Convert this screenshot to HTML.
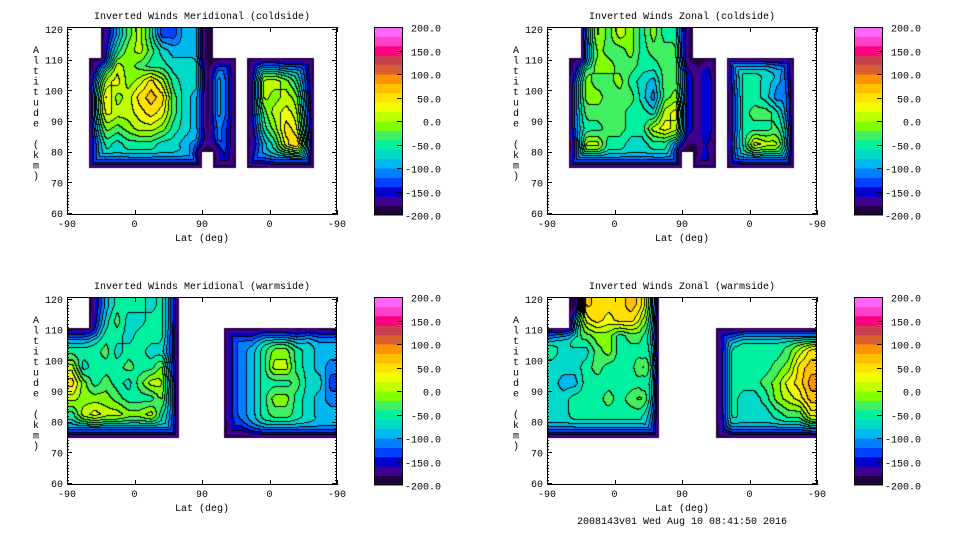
<!DOCTYPE html>
<html><head><meta charset="utf-8">
<style>
body{margin:0;background:#fff;width:960px;height:540px;overflow:hidden;position:relative;font-family:"Liberation Mono",monospace}
canvas{position:absolute}
svg{position:absolute;left:0;top:0}
</style></head>
<body>
<canvas id="c0" width="270" height="188" style="left:67px;top:27px"></canvas>
<canvas id="c1" width="270" height="188" style="left:547px;top:27px"></canvas>
<canvas id="c2" width="270" height="188" style="left:67px;top:297px"></canvas>
<canvas id="c3" width="270" height="188" style="left:547px;top:297px"></canvas>
<svg id="ov" width="960" height="540"></svg>
<script>
// level codes a..t => -190..190 step 20, '.' = no data. rows top(117.5km) to bottom(77.5km); 24 lat columns
const merCold=["...dfikhddffa...........","...fhjkigfffa...........","..chkjihhgggaee.dggffe..","..ikljkmkhggaff.fkkjhf..","..kmjkmnmigfaff.fkjkjg..","..klkklmligfaff.fiklkh..","..ijijkkjhgfaee.ehjmli..","..ghghhhggffbee.dfhlnk..","..gggggggggg.dd.ffgggg.."];
const zonCold=["...jkikjhjhhc...........","...ijiijhiiic...........","..cijjiihhiicbd.hhhhgf..","..hjiijhgfiicbf.ghhgfg..","..hjjiiigeijcbf.fhhgeh..","..hiiiihhgklcbf.fhiihh..","..hhhiihhklkcbf.fhhhij..","..fkkhhgghhgbbd.ghlkkk..","..gggggggggg.dd.fggggg.."];
const merWarm=["..dfhhhghg..............","..egigghhg..............","ffghhghhhf....eeegggfgff","hhhighhggf....eefhjjhgff","kghhhihhjg....eefhkkhgfe","mjhihgikkh....eefhhhiggd","kjjjihhhjh....eefhjjhgfe","hklkkjjkhh....eefhiihgff","gggggggggg....ddfggggggg"];
const zonWarm=["..anmmmnmm..............","..klmlmmkl..............","ghiijjhiij.....efhhhhhhh","hgggijhhhl.....ehhhhhikm","ggghihhhjm.....ehhhhijmn","gffhhhhhhl.....ehhhijlmo","gghhhihijk.....ehgghjkln","gghhhhhhhi.....ehggghiil","gggggggggg.....dgggggggh"];
const cbLabels=["200.0","150.0","100.0","50.0","0.0","-50.0","-100.0","-150.0","-200.0"];
const yTicks=[60,70,80,90,100,110,120];
const xTickLabels=["-90","0","90","0","-90"];
const titles=["Inverted Winds Meridional (coldside)","Inverted Winds Zonal (coldside)","Inverted Winds Meridional (warmside)","Inverted Winds Zonal (warmside)"];
const colors=["#200040","#400090","#0000d0","#0040ff","#0080ff","#00b8f0","#00d8c8","#00f0a0","#40f060","#80ff00","#c0ff00","#f0ff00","#ffe000","#ffc000","#ff9000","#d86030","#c84050","#ff0080","#ff40c8","#ff66ff"];
const rgb=colors.map(h=>[parseInt(h.substr(1,2),16),parseInt(h.substr(3,2),16),parseInt(h.substr(5,2),16)]);
const W=270,H=188,NC=24,NR=9,RIM=22;
function val(g,r,c){const ch=g[r][c];return ch==='.'?null:-190+(ch.charCodeAt(0)-97)*20;}
function draw(id,g){
 const cv=document.getElementById(id),ctx=cv.getContext('2d');
 const img=ctx.createImageData(W,H),bins=new Int16Array(W*H).fill(-1);
 const vals=new Float32Array(W*H),valid=new Uint8Array(W*H);
 for(let py=0;py<H;py++){const alt=120-(py+0.5)/H*60;if(alt<75)continue;
  const rf=(120-alt)/5-0.5;
  for(let px=0;px<W;px++){const u=(px+0.5)/W*360;const cf=u/15-0.5;
   const rc=Math.min(NR-1,Math.floor((120-alt)/5)),cc=Math.min(NC-1,Math.floor(u/15));
   if(val(g,rc,cc)===null)continue;
   const r0=Math.floor(rf),c0=Math.floor(cf);let s=0,w=0;
   for(let dr=0;dr<2;dr++)for(let dc=0;dc<2;dc++){const r=Math.max(0,Math.min(NR-1,r0+dr)),c=Math.max(0,Math.min(NC-1,c0+dc));const v=val(g,r,c);if(v===null)continue;
    const wr=dr?rf-r0:1-(rf-r0),wc=dc?cf-c0:1-(cf-c0);const ww=Math.max(0,wr)*Math.max(0,wc)+1e-6;s+=v*ww;w+=ww;}
   vals[py*W+px]=s/w;valid[py*W+px]=1;}}
 const D=new Float32Array(W*H);for(let i=0;i<W*H;i++)D[i]=valid[i]?1e6:0;
 const gd=(x,y)=>(x<0||y<0||x>=W||y>=H)?1e6:D[y*W+x];
 for(let y=0;y<H;y++)for(let x=0;x<W;x++){const i=y*W+x;if(!D[i])continue;D[i]=Math.min(D[i],gd(x-1,y)+1,gd(x,y-1)+1,gd(x-1,y-1)+1.414,gd(x+1,y-1)+1.414);}
 for(let y=H-1;y>=0;y--)for(let x=W-1;x>=0;x--){const i=y*W+x;if(!D[i])continue;D[i]=Math.min(D[i],gd(x+1,y)+1,gd(x,y+1)+1,gd(x+1,y+1)+1.414,gd(x-1,y+1)+1.414);}
 for(let i=0;i<W*H;i++){if(!valid[i])continue;const t=Math.min(1,D[i]/RIM);const f=t*(2-t);const v=vals[i]*f+(-200)*(1-f);
  bins[i]=Math.max(0,Math.min(19,Math.floor((v+200)/20)));}
 for(let py=0;py<H;py++)for(let px=0;px<W;px++){const b=bins[py*W+px];if(b<0)continue;const i=(py*W+px)*4;
  let line=false;if(px+1<W&&bins[py*W+px+1]>=0&&bins[py*W+px+1]!==b)line=true;if(py+1<H&&bins[(py+1)*W+px]>=0&&bins[(py+1)*W+px]!==b)line=true;
  if(b<=1)line=false;
  const c=line?[0,0,0]:rgb[b];img.data[i]=c[0];img.data[i+1]=c[1];img.data[i+2]=c[2];img.data[i+3]=255;}
 ctx.putImageData(img,0,0);
}
draw('c0',merCold);draw('c1',zonCold);draw('c2',merWarm);draw('c3',zonWarm);
const ov=document.getElementById('ov'),NS='http://www.w3.org/2000/svg';
function mk(t,a,txt){const e=document.createElementNS(NS,t);for(const k in a)e.setAttribute(k,a[k]);if(txt!==undefined)e.textContent=txt;ov.appendChild(e);return e;}
const panels=[[67,27],[547,27],[67,297],[547,297]];
panels.forEach((p,pi)=>{const [x0,y0]=p;
 let e=mk('rect',{x:x0+0.5,y:y0+0.5,width:W-1,height:H-1,fill:'none',stroke:'#000'});
 
 
 e=mk('text',{x:x0+135,y:y0-8,'font-size':10,'text-anchor':'middle'},titles[pi]);
 
 
 const yPix=a=>y0+(120-a)/60*(H-4)+2;
 let d='';for(let a=60;a<=120;a++){const L=a%10===0?5:2;const y=Math.round(yPix(a))+0.5;d+=`M${x0} ${y}h${L}M${x0+W} ${y}h${-L}`;}
 xTickLabels.forEach((l,i)=>{const x=Math.round(x0+i*(W/4))+0.5;d+=`M${x} ${y0+H}v-5M${x} ${y0}v5`;});
 e=mk('path',{d:d,stroke:'#000','stroke-width':1,fill:'none'});
 
 
 yTicks.forEach(a=>{const t=mk('text',{x:x0-4,y:yPix(a)+4,'font-size':10,'text-anchor':'end'},String(a));
  
  });
 xTickLabels.forEach((l,i)=>{const t=mk('text',{x:x0+i*(W/4),y:y0+H+12,'font-size':10,'text-anchor':'middle'},l);
  
  });
 e=mk('text',{x:x0+135,y:y0+H+26,'font-size':10,'text-anchor':'middle'},'Lat (deg)');
 
 
 const lab="Altitude (km)";
 for(let i=0;i<lab.length;i++){const t=mk('text',{x:x0-31,y:y0+26+i*10.5,'font-size':10,'text-anchor':'middle'},lab[i]);
  
  }
 const cx=x0+307,cw=29;
 for(let b=0;b<20;b++){const r=mk('rect',{x:cx,y:y0+H-(b+1)*H/20,width:cw,height:H/20+0.5,fill:colors[b]});
  
  }
 e=mk('rect',{x:cx+0.5,y:y0+0.5,width:cw-1,height:H-1,fill:'none',stroke:'#000'});
 
 
 let cd='';cbLabels.forEach((l,i)=>{const y=Math.round(y0+i*H/8)+0.5;if(i>0&&i<8)cd+=`M${cx+cw} ${y}h-6`;
  const t=mk('text',{x:cx+67,y:y+4,'font-size':10,'text-anchor':'end'},l);
  
  });
 e=mk('path',{d:cd,stroke:'#000'});
 
 
});
const f=mk('text',{x:682,y:524,'font-size':10,'text-anchor':'middle'},'2008143v01 Wed Aug 10 08:41:50 2016');


</script>
</body></html>
